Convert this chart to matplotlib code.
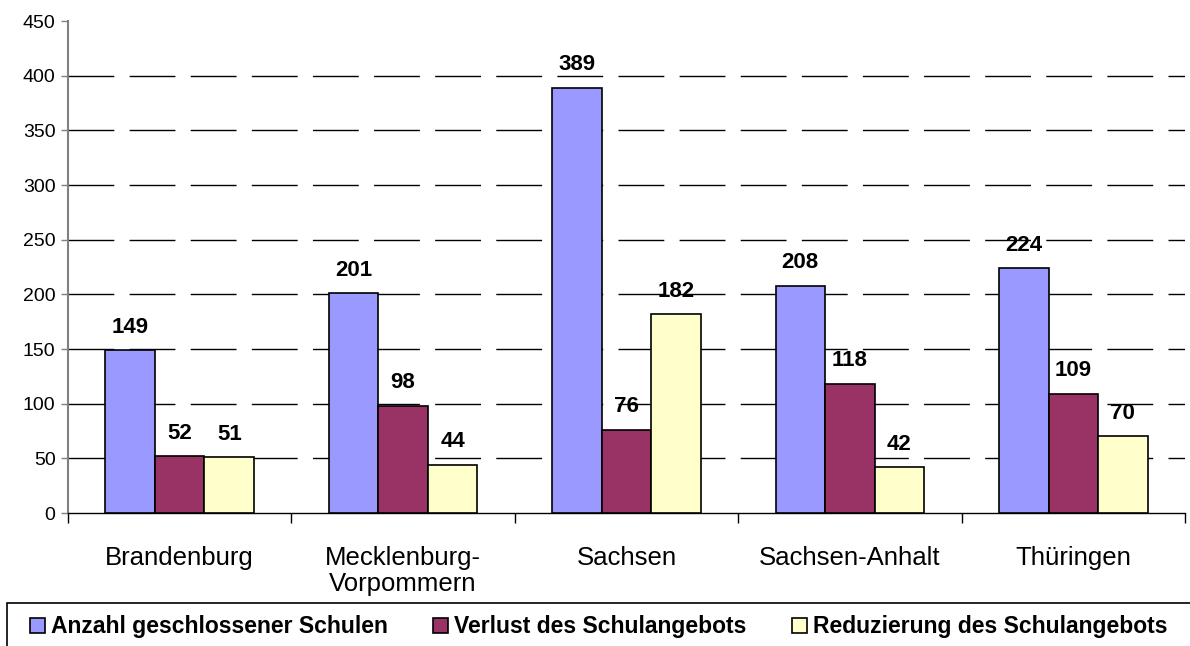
import matplotlib
matplotlib.use("Agg")
import matplotlib.pyplot as plt
from matplotlib.patches import Patch, Rectangle
import numpy as np

# Chart data
CATEGORIES = ["Brandenburg", "Mecklenburg-\nVorpommern", "Sachsen", "Sachsen-Anhalt", "Thüringen"]
SERIES_NAMES = ["Anzahl geschlossener Schulen", "Verlust des Schulangebots", "Reduzierung des Schulangebots"]
GESCHLOSSEN = [149, 201, 389, 208, 224]
VERLUST = [52, 98, 76, 118, 109]
REDUZIERUNG = [51, 44, 182, 42, 70]
Y_TICKS = [0, 50, 100, 150, 200, 250, 300, 350, 400, 450]

COLORS = ["#9999FF", "#993366", "#FFFFCC"]

plt.rcParams['font.family'] = ['Liberation Sans', 'DejaVu Sans']
plt.rcParams['lines.scale_dashes'] = False


def main():
  fig = plt.figure(figsize=(11.9, 6.46), dpi=100)
  ax = fig.add_axes([68/1190, 1-513/646, (1185-68)/1190, (513-21)/646])

  x = np.arange(len(CATEGORIES))
  width = 0.222
  series = [GESCHLOSSEN, VERLUST, REDUZIERUNG]
  for i, (vals, col) in enumerate(zip(series, COLORS)):
    bars = ax.bar(x + (i - 1) * width, vals, width, color=col,
                  edgecolor="black", linewidth=1.2, zorder=3)
    ax.bar_label(bars, padding=9, fontsize=16, fontweight="bold")

  ax.set_xlim(-0.5, len(CATEGORIES) - 0.5)
  ax.set_ylim(0, 450)
  ax.set_yticks(Y_TICKS)
  ax.tick_params(axis="y", labelsize=14, length=5, width=1, color="#808080", pad=4)

  # categories centered, tick marks on the boundaries
  ax.set_xticks(x)
  ax.set_xticklabels(CATEGORIES, fontsize=18.5, linespacing=1.1)
  ax.tick_params(axis="x", which="major", length=0, pad=24)
  ax.set_xticks(np.arange(len(CATEGORIES) + 1) - 0.5, minor=True)
  ax.tick_params(axis="x", which="minor", length=7, width=1, color="black")

  for s in ["top", "right"]:
    ax.spines[s].set_visible(False)
  ax.spines["left"].set_color("#808080")
  ax.spines["left"].set_linewidth(1.5)
  ax.spines["bottom"].set_color("black")
  ax.spines["bottom"].set_linewidth(1)

  # dashed grid, no line at the top
  for v in Y_TICKS[1:-1]:
    ax.axhline(v, color="black", linewidth=1, dashes=(33, 11), zorder=1)

  # legend with a box running off the bottom and right edges
  fig.patches.append(Rectangle((7/1190, -0.05), 1.0, (646-603)/646 + 0.05,
                               transform=fig.transFigure, fill=False,
                               edgecolor="black", linewidth=1.2))
  handles = [Patch(facecolor=c, edgecolor="black", linewidth=1.2) for c in COLORS]
  fig.legend(handles, SERIES_NAMES, loc="center left",
             bbox_to_anchor=(30/1190, 1-627/646), ncol=3, frameon=False,
             prop={"size": 16.5, "weight": "bold"},
             handlelength=0.65, handleheight=0.65, handletextpad=0.25,
             columnspacing=2.0, borderaxespad=0, borderpad=0)

  fig.savefig("out.png", dpi=100)


if __name__ == "__main__":
  main()
